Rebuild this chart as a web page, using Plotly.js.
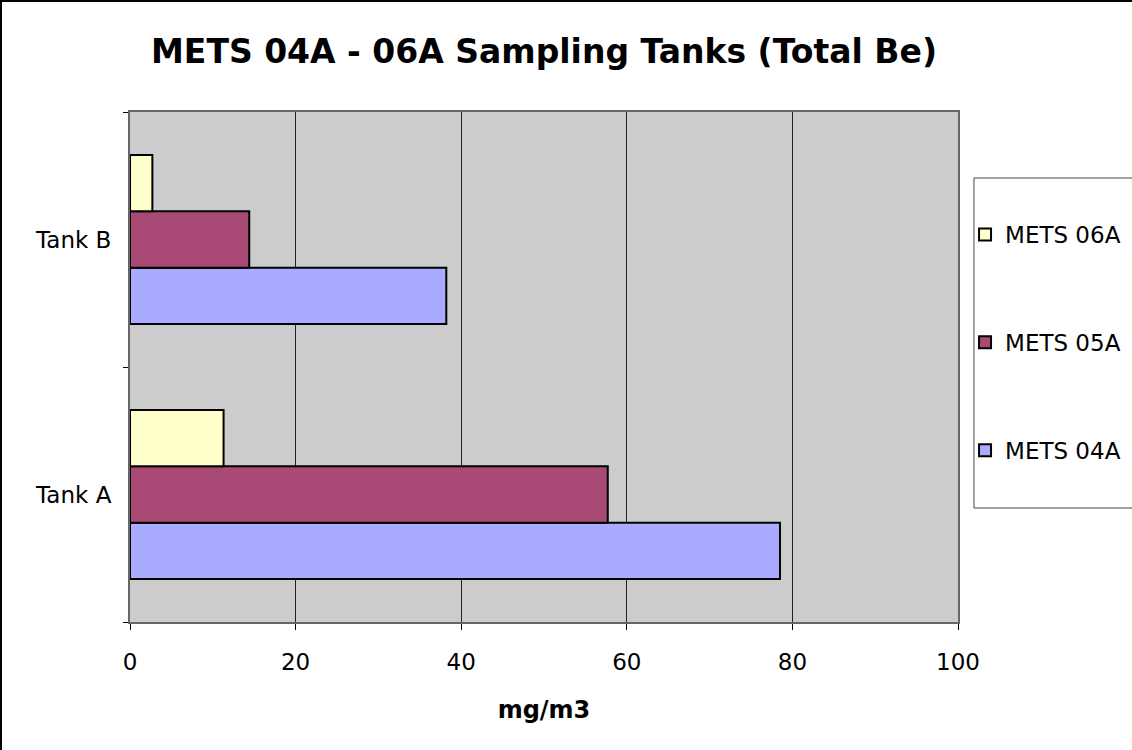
<!DOCTYPE html>
<html>
<head>
<meta charset="utf-8">
<script src="https://cdn.plot.ly/plotly-3.0.1.min.js"></script>
<style>
  html, body { margin: 0; padding: 0; background: #fff; }
  #wrap { position: relative; width: 1132px; height: 750px; }
  #chart { width: 1132px; height: 750px; }
  #frame { position: absolute; left: 0; top: 0; width: 1132px; height: 750px;
           border-left: 2px solid #000; border-top: 2px solid #000; box-sizing: border-box;
           pointer-events: none; }
</style>
</head>
<body>
<div id="wrap"><div id="chart"></div><div id="frame"></div></div>
<script>
const categories = ["Tank A", "Tank B"];
const seriesNames = ["METS 04A", "METS 05A", "METS 06A"];
const mets04A = [78.5, 38.2];
const mets05A = [57.7, 14.4];
const mets06A = [11.3, 2.7];
const seriesColors = ["#AAAAFF", "#A94A76", "#FFFFCC"];
const xTicks = [0, 20, 40, 60, 80, 100];

const values = [mets04A, mets05A, mets06A];
const traces = values.map((v, i) => ({
  type: "bar",
  orientation: "h",
  name: seriesNames[i],
  y: categories,
  x: v,
  legendgroup: "g" + i,
  legendrank: 1000 - i,
  marker: { color: seriesColors[i], line: { color: "#000", width: 2 } },
  hoverinfo: "x+name"
}));

const font = "DejaVu Sans, Verdana, sans-serif";
const layout = {
  width: 1132, height: 750,
  margin: { l: 130, r: 174, t: 112, b: 128, autoexpand: false },
  paper_bgcolor: "#fff",
  plot_bgcolor: "#CCCCCC",
  barmode: "group",
  bargap: 0.337,
  bargroupgap: 0,
  showlegend: true,
  font: { family: font, color: "#000", size: 23 },
  title: {
    text: "<b>METS 04A - 06A Sampling Tanks (Total Be)</b>",
    font: { family: font, size: 33, color: "#000" },
    xref: "paper", x: 0.5, xanchor: "center",
    yref: "container", y: 0.931, yanchor: "middle"
  },
  xaxis: {
    range: [0, 100],
    tickvals: xTicks,
    ticktext: xTicks.map(String),
    ticks: "outside", ticklen: 6, tickcolor: "#000", tickwidth: 1,
    showgrid: true, gridcolor: "#222", gridwidth: 1,
    zeroline: false,
    showline: true, linecolor: "#666", linewidth: 2, mirror: true,
    tickfont: { family: font, size: 23 },
    ticklabelstandoff: 12,
    title: { text: "<b>mg/m3</b>", font: { family: font, size: 24 }, standoff: 28 },
    automargin: false,
    fixedrange: true
  },
  yaxis: {
    type: "category",
    categoryorder: "array",
    categoryarray: categories,
    tickson: "boundaries",
    ticks: "outside", ticklen: 5, tickcolor: "#000", tickwidth: 1,
    showgrid: false, zeroline: false,
    showline: true, linecolor: "#666", linewidth: 2, mirror: true,
    tickfont: { family: font, size: 23 },
    ticklabelstandoff: 12,
    automargin: false,
    fixedrange: true
  },
  legend: {
    x: 1.0085, xanchor: "left",
    y: 0.802, yanchor: "top",
    traceorder: "grouped",
    tracegroupgap: 75,
    bgcolor: "rgba(0,0,0,0)",
    borderwidth: 0,
    font: { family: font, size: 23, color: "#000" }
  },
  shapes: [{
    type: "rect", xref: "paper", yref: "paper",
    x0: 1.0193, x1: 1.3, y0: 0.2235, y1: 0.8706,
    line: { color: "#444", width: 1 },
    fillcolor: "rgba(0,0,0,0)",
    layer: "below"
  }]
};

Plotly.newPlot("chart", traces, layout, { displayModeBar: false, staticPlot: true });
</script>
</body>
</html>
